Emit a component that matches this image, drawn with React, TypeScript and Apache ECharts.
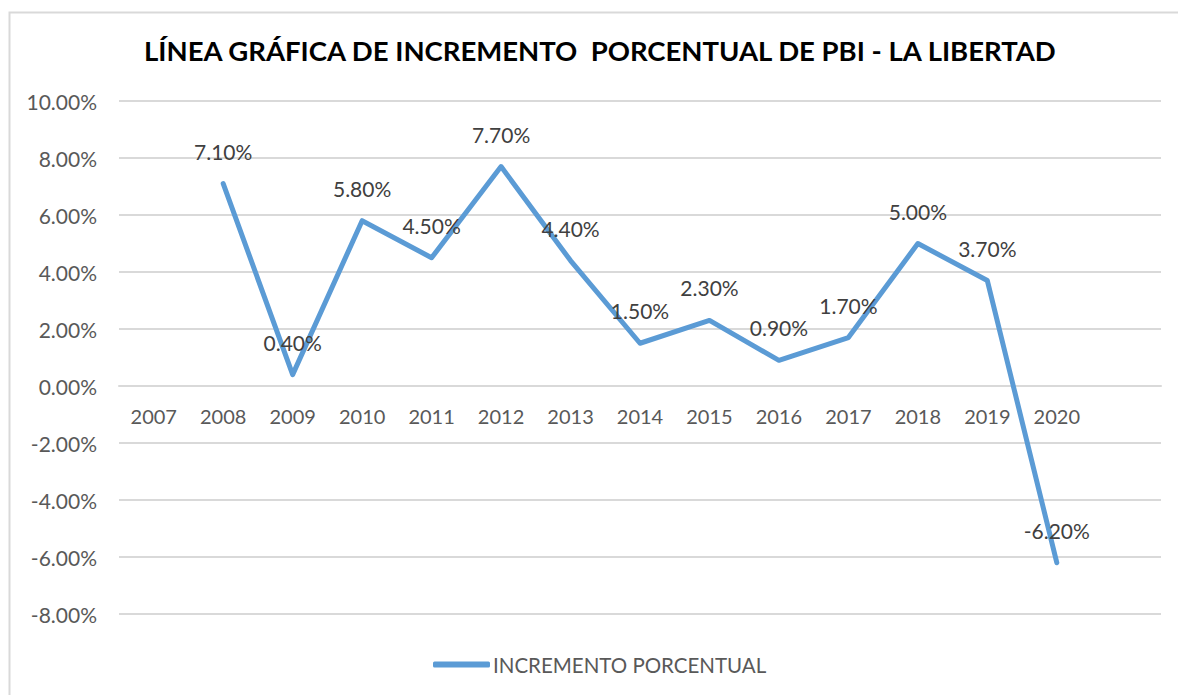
import React, { useEffect, useRef } from "react";
import * as echarts from "echarts";

const years = ["2007", "2008", "2009", "2010", "2011", "2012", "2013", "2014", "2015", "2016", "2017", "2018", "2019", "2020", ""];
const increments: (number | null)[] = [null, 7.1, 0.4, 5.8, 4.5, 7.7, 4.4, 1.5, 2.3, 0.9, 1.7, 5.0, 3.7, -6.2, null];
const seriesName = "INCREMENTO PORCENTUAL";
const titleText = "LÍNEA GRÁFICA DE INCREMENTO  PORCENTUAL DE PBI - LA LIBERTAD";

const FONT = "Lato, 'Open Sans', sans-serif";

export default function App() {
  const ref = useRef<HTMLDivElement>(null);
  useEffect(() => {
    document.body.style.margin = "0";
    if (!ref.current) return;
    const chart = echarts.init(ref.current, undefined, { renderer: "svg" });
    chart.setOption({
      animation: false,
      backgroundColor: "#ffffff",
      textStyle: { fontFamily: FONT },
      title: {
        text: titleText,
        left: 139,
        top: 31,
        textStyle: { fontFamily: FONT, fontSize: 27.5, fontWeight: "bold", color: "#000000" },
      },
      graphic: [
        {
          type: "rect",
          left: 7,
          top: 10,
          shape: { width: 1200, height: 720 },
          style: { fill: "none", stroke: "#D9D9D9", lineWidth: 2 },
          silent: true,
        },
      ],
      grid: { left: 119, right: 17, top: 101, bottom: 81, containLabel: false },
      legend: {
        bottom: 15,
        left: 428,
        icon: "roundRect",
        itemWidth: 57,
        itemHeight: 6,
        itemGap: 10,
        textStyle: { fontFamily: FONT, fontSize: 20.5, color: "#595959", padding: [0, 0, 0, -2] },
        data: [seriesName],
      },
      xAxis: {
        type: "category",
        data: years,
        boundaryGap: true,
        position: "bottom",
        offset: -228,
        axisLine: { show: true, onZero: false, lineStyle: { color: "#D9D9D9", width: 2 } },
        axisTick: { show: false },
        axisLabel: { color: "#595959", fontSize: 20, margin: 20, fontFamily: FONT },
        splitLine: { show: false },
      },
      yAxis: {
        type: "value",
        min: -8,
        max: 10,
        interval: 2,
        axisLine: { show: false },
        axisTick: { show: false },
        axisLabel: {
          color: "#595959",
          fontSize: 21,
          margin: 22,
          fontFamily: FONT,
          formatter: (v: number) => v.toFixed(2) + "%",
        },
        splitLine: { lineStyle: { color: "#D9D9D9", width: 2 } },
      },
      series: [
        {
          name: seriesName,
          type: "line",
          data: increments,
          symbol: "circle",
          symbolSize: 0,
          showSymbol: true,
          connectNulls: false,
          itemStyle: { color: "#5B9BD5" },
          lineStyle: { color: "#5B9BD5", width: 5, cap: "round", join: "round" },
          label: {
            show: true,
            position: "top",
            distance: 22,
            color: "#404040",
            fontSize: 21,
            fontFamily: FONT,
            formatter: (p: any) => (p.value == null ? "" : Number(p.value).toFixed(2) + "%"),
          },
        },
      ],
    });
    return () => chart.dispose();
  }, []);
  return <div ref={ref} style={{ width: 1178, height: 695 }} />;
}
